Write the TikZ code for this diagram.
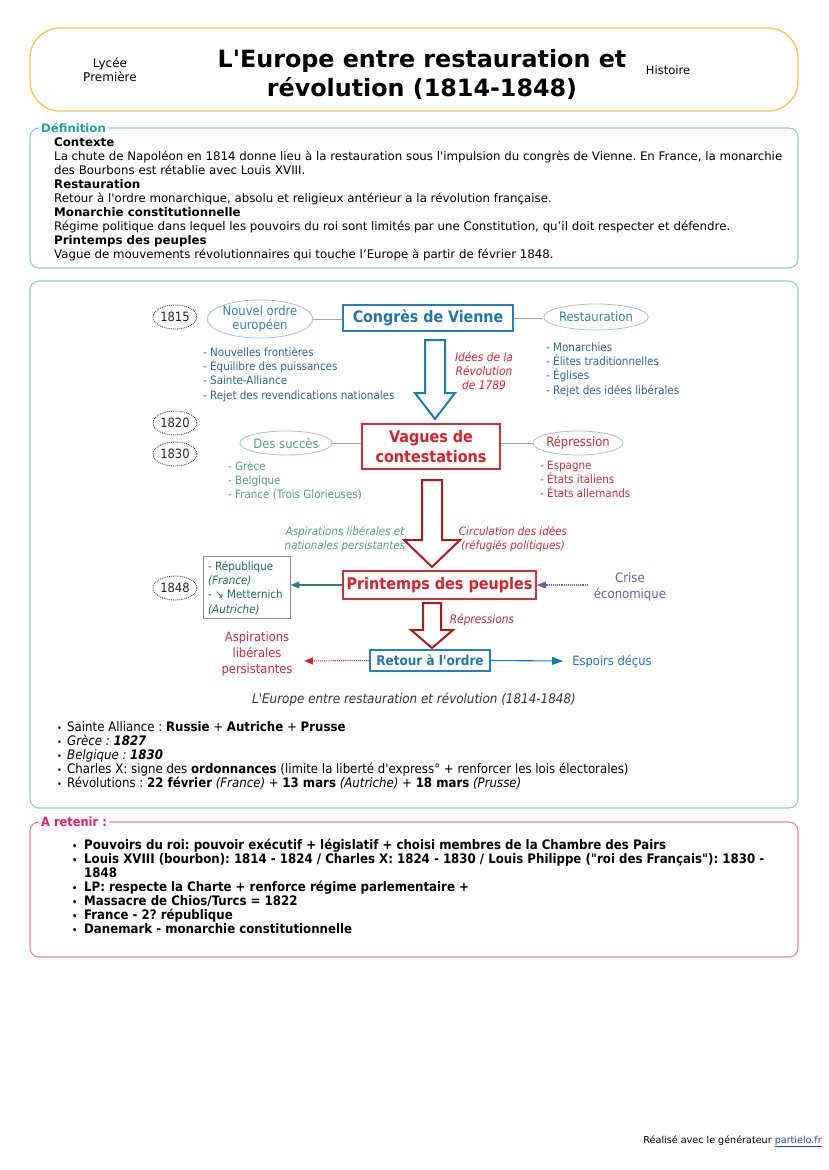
\documentclass[tikz,border=0pt]{standalone}
\usepackage{fontspec}
\setmainfont{DejaVu Sans}[Ligatures=TeXOff]
\newfontfamily\cond{DejaVu Sans Condensed}[Ligatures=TeXOff]
\usetikzlibrary{shapes.geometric,arrows.meta}
\definecolor{hdr}{HTML}{F2C45C}
\definecolor{tealb}{HTML}{8ECFCB}
\definecolor{tealt}{HTML}{22A39D}
\definecolor{pinkb}{HTML}{E383A8}
\definecolor{pinkt}{HTML}{E0206E}
\definecolor{boxblue}{HTML}{2A7DB8}
\definecolor{txtblue}{HTML}{2474AE}
\definecolor{ellgray}{HTML}{A9BFD3}
\definecolor{listblue}{HTML}{35618D}
\definecolor{ellblue}{HTML}{3E7FA8}
\definecolor{redt}{HTML}{D4242C}
\definecolor{redb}{HTML}{C9343C}
\definecolor{darkred}{HTML}{A51D22}
\definecolor{listred}{HTML}{C0303A}
\definecolor{greent}{HTML}{5A9C7F}
\definecolor{tealarr}{HTML}{2E7D7A}
\definecolor{purp}{HTML}{6B5EA3}
\definecolor{grayb}{HTML}{8C8C8C}
\definecolor{arrblue}{HTML}{1F7BAA}
\definecolor{linkblue}{HTML}{2A3FC8}
\frenchspacing
\tikzset{
  dtext/.style={font=\cond\fontsize{11.5}{14.2}\selectfont, inner sep=0pt},
  dotell/.style={ellipse, draw=black!75, densely dotted, line width=0.9pt, minimum width=44pt, minimum height=24pt, inner sep=0pt, font=\cond\fontsize{12.8}{14}\selectfont, text=black!85},
  ell/.style={ellipse, draw=ellgray, line width=0.8pt, inner sep=0pt, font=\cond\fontsize{12.9}{14.5}\selectfont, align=center},
  bluebox/.style={rectangle, draw=boxblue, line width=1.2pt, inner sep=0pt, text=txtblue, font=\cond\bfseries\fontsize{15.8}{18}\selectfont},
  redbox/.style={rectangle, draw=redb, line width=1.8pt, inner sep=0pt, text=redt, font=\cond\bfseries\fontsize{16}{20}\selectfont, align=center},
  conn/.style={draw=black!35, line width=0.8pt},
  hollow/.style={draw=#1, line width=2pt, fill=white, line join=miter},
  lbl/.style={font=\bfseries\fontsize{11.7}{13}\selectfont, fill=white, inner xsep=2pt, inner ysep=1pt, anchor=west},
}
\begin{document}
\frenchspacing
\begin{tikzpicture}[x=1pt,y=-1pt]
\useasboundingbox (0,0) rectangle (828,1170);
\fill[white] (0,0) rectangle (828,1170);

% ---------- header ----------
\draw[draw=hdr, line width=1.3pt, rounded corners=30pt] (30,28) rectangle (798,111);
\node[font=\fontsize{12}{14}\selectfont, align=center] (niveau) at (110,70) {Lycée\\Première};
\node[font=\bfseries\fontsize{23.8}{29}\selectfont, align=center] (titre) at (422,75) {L'Europe entre restauration et\\révolution (1814-1848)};
\node[font=\fontsize{11.5}{14}\selectfont] (matiere) at (668,70) {Histoire};

% ---------- definition ----------
\draw[draw=tealb, line width=1.1pt, rounded corners=9pt] (30,128) rectangle (798,268);
\node[lbl, text=tealt] (deflbl) at (39,128) {Définition};
\node[anchor=north west, align=left, inner sep=0pt, font=\fontsize{11.8}{14}\selectfont] (deftxt) at (54,137.5) {%
\textbf{Contexte}\\
La chute de Napoléon en 1814 donne lieu à la restauration sous l'impulsion du congrès de Vienne. En France, la monarchie\\
des Bourbons est rétablie avec Louis XVIII.\\
\textbf{Restauration}\\
Retour à l'ordre monarchique, absolu et religieux antérieur a la révolution française.\\
\textbf{Monarchie constitutionnelle}\\
Régime politique dans lequel les pouvoirs du roi sont limités par une Constitution, qu’il doit respecter et défendre.\\
\textbf{Printemps des peuples}\\
Vague de mouvements révolutionnaires qui touche l’Europe à partir de février 1848.};

% ---------- diagram frame ----------
\draw[draw=tealb, line width=1.1pt, rounded corners=9pt] (30,281) rectangle (798,808);

% row 1815
\node[dotell] (y1815) at (175,317) {1815};
\node[ell, minimum width=96pt, minimum height=36pt, text=ellblue] (nouvel) at (260,319) {Nouvel ordre\\européen};
\node[bluebox, minimum width=170pt, minimum height=26pt] (congres) at (428,318) {Congrès de Vienne};
\node[ell, minimum width=92pt, minimum height=26pt, text=ellblue] (restau) at (596,317) {Restauration};
\draw[conn] (nouvel.east) -- (nouvel.east -| congres.west);
\draw[conn] (congres.east) -- (congres.east -| restau.west);
\node[dtext, anchor=north west, align=left, text=listblue] (listL1) at (203,347) {- Nouvelles frontières\\- Équilibre des puissances\\- Sainte-Alliance\\- Rejet des revendications nationales};
\node[dtext, anchor=north west, align=left, text=listblue] (listR1) at (546,342.5) {- Monarchies\\- Élites traditionnelles\\- Églises\\- Rejet des idées libérales};
\node[dtext, align=center, text=redt, font=\cond\itshape\fontsize{11.8}{14}\selectfont] (idees) at (484,371) {Idées de la\\Révolution\\de 1789};
\draw[hollow=arrblue] (425,340) -- (445,340) -- (445,393) -- (455,393) -- (435,419) -- (415,393) -- (425,393) -- cycle;

% row 1820/1830
\node[dotell] (y1820) at (175,423) {1820};
\node[dotell] (y1830) at (175,454) {1830};
\node[ell, minimum width=90pt, minimum height=24pt, text=greent] (succes) at (286,443) {Des succès};
\node[redbox, minimum width=138pt, minimum height=45pt] (vagues) at (431,446.5) {Vagues de\\contestations};
\node[ell, minimum width=90pt, minimum height=24pt, text=listred] (repr) at (578,443) {Répression};
\draw[conn] (succes.east) -- (succes.east -| vagues.west);
\draw[conn] (vagues.east |- repr.west) -- (repr.west);
\node[dtext, anchor=north west, align=left, text=greent] (listL2) at (228,461) {- Grèce\\- Belgique\\- France (Trois Glorieuses)};
\node[dtext, anchor=north west, align=left, text=listred] (listR2) at (540,461) {- Espagne\\- États italiens\\- États allemands};
\draw[hollow=darkred] (422,480) -- (442,480) -- (442,540) -- (460,540) -- (432,567) -- (404,540) -- (422,540) -- cycle;
\node[dtext, align=center, text=greent, font=\cond\itshape\fontsize{11.5}{14}\selectfont] (aspi1) at (345,539) {Aspirations libérales et\\nationales persistantes};
\node[dtext, align=center, text=listred, font=\cond\itshape\fontsize{11.5}{14}\selectfont] (circ) at (513,539) {Circulation des idées\\(réfugiés politiques)};

% row 1848
\node[dotell] (y1848) at (175,588) {1848};
\node[draw=grayb, line width=0.9pt, minimum width=87pt, minimum height=62pt, inner sep=0pt] (rep) at (246.5,587) {};
\node[dtext, anchor=north west, align=left, text=tealarr!80!black] (reptxt) at (208,561) {- République\\\textit{(France)}\\- ↘ Metternich\\\textit{(Autriche)}};
\node[redbox, minimum width=193pt, minimum height=28pt] (printemps) at (439.5,585) {Printemps des peuples};
\node[dtext, align=center, text=purp, font=\cond\fontsize{13}{16}\selectfont] (crise) at (630,587) {Crise\\économique};
\draw[tealarr, line width=1.1pt, -{Triangle[length=9pt,width=7pt]}] (printemps.west) -- (printemps.west -| rep.east);
\draw[purp, line width=1.1pt, densely dotted, -{Triangle[length=9pt,width=7pt]}] (crise.west |- printemps.east) ++(-6,0) -- (printemps.east);
\draw[hollow=darkred] (423,603) -- (441,603) -- (441,630) -- (453,630) -- (432,648) -- (411,630) -- (423,630) -- cycle;
\node[dtext, text=listred, font=\cond\itshape\fontsize{11.8}{14}\selectfont] (repress) at (482,620) {Répressions};
\node[bluebox, minimum width=120pt, minimum height=21pt, font=\cond\bfseries\fontsize{13.4}{16}\selectfont] (retour) at (430,660.5) {Retour à l'ordre};
\node[dtext, align=center, text=listred, font=\cond\fontsize{12.8}{16}\selectfont] (aspi2) at (257,654) {Aspirations\\libérales\\persistantes};
\node[dtext, text=txtblue, font=\cond\fontsize{12.8}{16}\selectfont] (espoirs) at (612,662) {Espoirs déçus};
\coordinate (aspiEnd) at (304,661);
\coordinate (espEnd) at (563,661);
\draw[redt, line width=1.1pt, densely dotted, -{Triangle[length=9pt,width=7pt]}] (retour.west) -- (aspiEnd);
\draw[arrblue, line width=1.1pt, -{Triangle[length=11pt,width=8pt]}] (retour.east) -- (espEnd);

\node[dtext, font=\cond\itshape\fontsize{13.3}{14}\selectfont, text=black!80] (caption) at (414,700) {L'Europe entre restauration et révolution (1814-1848)};

\node[anchor=north west, align=left, inner sep=0pt, font=\cond\fontsize{13.1}{14}\selectfont] (bul1) at (57,721) {%
\makebox[10pt][l]{\small•}Sainte Alliance : \textbf{Russie} + \textbf{Autriche} + \textbf{Prusse}\\
\makebox[10pt][l]{\small•}\textit{Grèce : \textbf{1827}}\\
\makebox[10pt][l]{\small•}\textit{Belgique : \textbf{1830}}\\
\makebox[10pt][l]{\small•}Charles X: signe des \textbf{ordonnances} (limite la liberté d'express° + renforcer les lois électorales)\\
\makebox[10pt][l]{\small•}Révolutions : \textbf{22 février} \textit{(France)} + \textbf{13 mars} \textit{(Autriche)} + \textbf{18 mars} \textit{(Prusse)}};

% ---------- a retenir ----------
\draw[draw=pinkb, line width=1.1pt, rounded corners=9pt] (30,822) rectangle (798,957);
\node[lbl, text=pinkt, font=\cond\bfseries\fontsize{12.7}{13}\selectfont] (retlbl) at (39,822) {A retenir :};
\node[anchor=north west, align=left, inner sep=0pt, font=\cond\bfseries\fontsize{13.1}{14}\selectfont] (rettxt) at (72,839) {%
\makebox[12pt][l]{\small•}Pouvoirs du roi: pouvoir exécutif + législatif + choisi membres de la Chambre des Pairs\\
\makebox[12pt][l]{\small•}Louis XVIII (bourbon): 1814 - 1824 / Charles X: 1824 - 1830 / Louis Philippe ("roi des Français"): 1830 -\\
\hspace*{12pt}1848\\
\makebox[12pt][l]{\small•}LP: respecte la Charte + renforce régime parlementaire +\\
\makebox[12pt][l]{\small•}Massacre de Chios/Turcs = 1822\\
\makebox[12pt][l]{\small•}France - 2? république\\
\makebox[12pt][l]{\small•}Danemark - monarchie constitutionnelle};

% ---------- footer ----------
\node[anchor=base east, inner sep=0pt, font=\fontsize{9.6}{10}\selectfont] (footer) at (822,1143) {Réalisé avec le générateur \textcolor{linkblue}{\underline{partielo.fr}}};
\end{tikzpicture}
\end{document}
